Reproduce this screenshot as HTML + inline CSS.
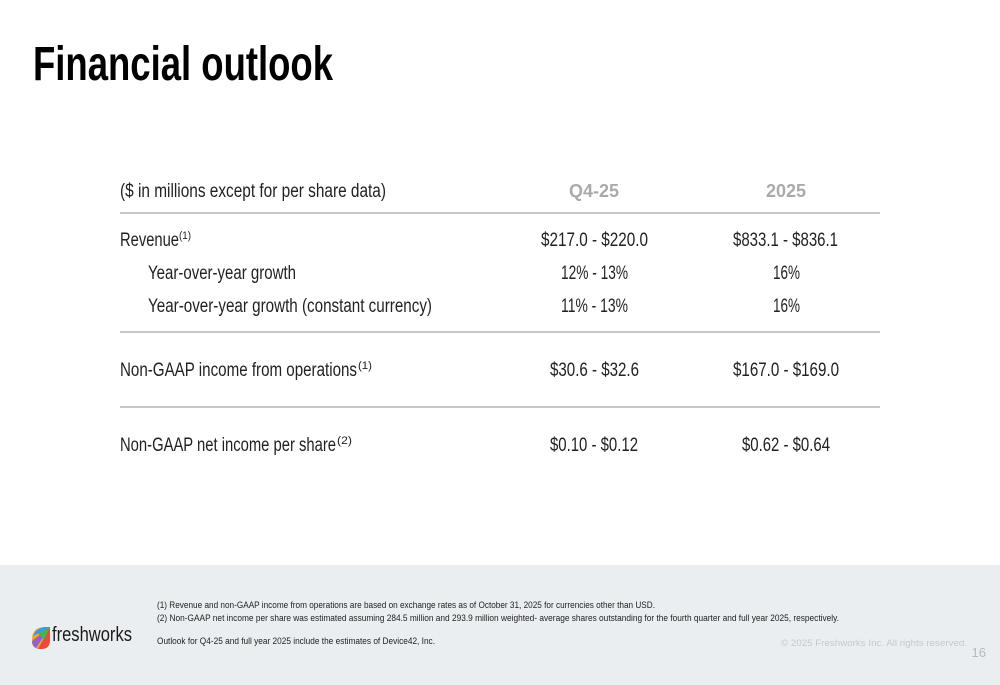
<!DOCTYPE html>
<html><head><meta charset="utf-8"><style>
html,body{margin:0;padding:0;background:#fff;}
svg{display:block;}
text{font-family:"Liberation Sans",sans-serif;}
</style></head><body>
<svg width="1000" height="685" viewBox="0 0 1000 685">
<rect x="0" y="0" width="1000" height="685" fill="#fff"/>
<text x="33" y="80" font-size="48" font-weight="bold" fill="#000" textLength="300" lengthAdjust="spacingAndGlyphs">Financial outlook</text>

<g font-size="19" fill="#222">
  <text x="120" y="197" textLength="266" lengthAdjust="spacingAndGlyphs">($ in millions except for per share data)</text>
  <text x="594" y="197" text-anchor="middle" font-weight="bold" fill="#aaa" font-size="18">Q4-25</text>
  <text x="786" y="197" text-anchor="middle" font-weight="bold" fill="#aaa" font-size="18">2025</text>
  <line x1="120" y1="213" x2="880" y2="213" stroke="#a6a6a6" stroke-width="1.3"/>

  <text x="120" y="246" textLength="59" lengthAdjust="spacingAndGlyphs">Revenue</text>
  <text x="179" y="239" font-size="11" textLength="12" lengthAdjust="spacingAndGlyphs">(1)</text>
  <text x="541" y="246" textLength="107" lengthAdjust="spacingAndGlyphs">$217.0 - $220.0</text>
  <text x="733" y="246" textLength="105" lengthAdjust="spacingAndGlyphs">$833.1 - $836.1</text>

  <text x="148" y="279" textLength="148" lengthAdjust="spacingAndGlyphs">Year-over-year growth</text>
  <text x="561" y="279" textLength="67" lengthAdjust="spacingAndGlyphs">12% - 13%</text>
  <text x="773" y="279" textLength="27" lengthAdjust="spacingAndGlyphs">16%</text>

  <text x="148" y="312" textLength="284" lengthAdjust="spacingAndGlyphs">Year-over-year growth (constant currency)</text>
  <text x="561" y="312" textLength="67" lengthAdjust="spacingAndGlyphs">11% - 13%</text>
  <text x="773" y="312" textLength="27" lengthAdjust="spacingAndGlyphs">16%</text>
  <line x1="120" y1="332" x2="880" y2="332" stroke="#a6a6a6" stroke-width="1.3"/>

  <text x="120" y="376" textLength="237" lengthAdjust="spacingAndGlyphs">Non-GAAP income from operations</text>
  <text x="358" y="369" font-size="11" textLength="14" lengthAdjust="spacingAndGlyphs">(1)</text>
  <text x="550" y="376" textLength="89" lengthAdjust="spacingAndGlyphs">$30.6 - $32.6</text>
  <text x="733" y="376" textLength="106" lengthAdjust="spacingAndGlyphs">$167.0 - $169.0</text>
  <line x1="120" y1="407" x2="880" y2="407" stroke="#a6a6a6" stroke-width="1.3"/>

  <text x="120" y="451" textLength="216" lengthAdjust="spacingAndGlyphs">Non-GAAP net income per share</text>
  <text x="337" y="444" font-size="11" textLength="15" lengthAdjust="spacingAndGlyphs">(2)</text>
  <text x="550" y="451" textLength="88" lengthAdjust="spacingAndGlyphs">$0.10 - $0.12</text>
  <text x="742" y="451" textLength="88" lengthAdjust="spacingAndGlyphs">$0.62 - $0.64</text>
</g>

<g>
  <rect x="0" y="565" width="1000" height="120" fill="#ebeef1"/>
  <g>
    <path d="M50,627 L50,640 Q50,649 41,649 L40,649 Q32,649 32,641 L32,640 Q32,627 45,627 Z" fill="#f4a623"/>
    <path d="M50,627 L50,640 Q50,649 41,649 L38,649 Z" fill="#e84b3c"/>
    <path d="M50,627 L36,648 Q32,646 32,641 Z" fill="#7c4dff" opacity="0.8"/>
    <path d="M50,627 L33,636 Q36,628 45,627 Z" fill="#2e9cf4"/>
    <path d="M50,627 L44,640 L38,633 Z" fill="#4caf50"/>
    <text x="52" y="641" font-size="20" fill="#1b1b1b" textLength="80" lengthAdjust="spacingAndGlyphs">freshworks</text>
  </g>
  <g font-size="9" fill="#222">
    <text x="157" y="608" textLength="498" lengthAdjust="spacingAndGlyphs">(1) Revenue and non-GAAP income from operations are based on exchange rates as of October 31, 2025 for currencies other than USD.</text>
    <text x="157" y="621" textLength="682" lengthAdjust="spacingAndGlyphs">(2) Non-GAAP net income per share was estimated assuming 284.5 million and 293.9 million weighted- average shares outstanding for the fourth quarter and full year 2025, respectively.</text>
    <text x="157" y="644" textLength="278" lengthAdjust="spacingAndGlyphs">Outlook for Q4-25 and full year 2025 include the estimates of Device42, Inc.</text>
  </g>
  <text x="967" y="646" font-size="9" fill="#c8c8c8" text-anchor="end" textLength="186" lengthAdjust="spacingAndGlyphs">© 2025 Freshworks Inc. All rights reserved.</text>
  <text x="986" y="657" font-size="13" fill="#b8b8b8" text-anchor="end">16</text>
</g>
</svg>
</body></html>
